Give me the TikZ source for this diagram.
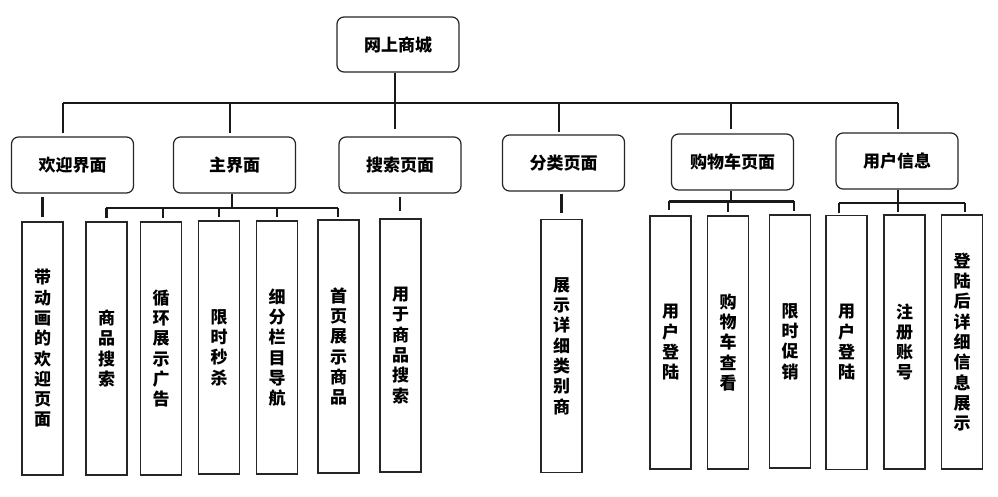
\documentclass[tikz,border=0pt]{standalone}
\usepackage{fontspec}
\newfontfamily\cjk{Noto Sans CJK SC}
\newcommand\lblfont{\cjk\bfseries\fontsize{17}{20}\selectfont}
\newcommand\vlblfont{\cjk\bfseries\fontsize{17}{20.3}\selectfont}
\begin{document}
\begin{tikzpicture}[x=1pt,y=-1pt,
  rbox/.style={draw=black!85, line width=1.2pt, rounded corners=7pt, font=\lblfont,
    inner sep=0pt, minimum width=122pt, minimum height=56pt},
  vbox/.style={draw=black!85, line width=1.2pt, font=\vlblfont, align=center,
    inner sep=0pt, minimum width=41pt, minimum height=253pt},
  conn/.style={line width=2.2pt, black!90}]
\useasboundingbox (0,0) rectangle (998,497);
\fill[white] (0,0) rectangle (998,497);

% root
\node[rbox, minimum height=55pt] (root) at (398,44.5) {网上商城};

% second level
\node[rbox] (welcome) at (72.5,165) {欢迎界面};
\node[rbox] (main)    at (234.5,165) {主界面};
\node[rbox] (search)  at (400,165) {搜索页面};
\node[rbox] (cat)     at (563.5,163) {分类页面};
\node[rbox] (cart)    at (732.5,162) {购物车页面};
\node[rbox] (user)    at (897,161) {用户信息};

% third level
\node[vbox] (w1) at (42.5,348.5) {带\\动\\画\\的\\欢\\迎\\页\\面};
\node[vbox] (m1) at (106.5,348.5) {商\\品\\搜\\索};
\node[vbox] (m2) at (161,348.5) {循\\环\\展\\示\\广\\告};
\node[vbox] (m3) at (219,347.5) {限\\时\\秒\\杀};
\node[vbox] (m4) at (277,347.5) {细\\分\\栏\\目\\导\\航};
\node[vbox] (m5) at (338.5,346.5) {首\\页\\展\\示\\商\\品};
\node[vbox] (s1) at (400.5,345.5) {用\\于\\商\\品\\搜\\索};
\node[vbox] (c1) at (561.5,346) {展\\示\\详\\细\\类\\别\\商};
\node[vbox] (k1) at (670.5,342.5) {用\\户\\登\\陆};
\node[vbox] (k2) at (728,342.5) {购\\物\\车\\查\\看};
\node[vbox] (k3) at (790,341.5) {限\\时\\促\\销};
\node[vbox, minimum height=254pt] (u1) at (846.5,342.5) {用\\户\\登\\陆};
\node[vbox, minimum height=254pt] (u2) at (904.5,342) {注\\册\\账\\号};
\node[vbox, minimum height=254pt] (u3) at (962,342) {登\\陆\\后\\详\\细\\信\\息\\展\\示};

% bus levels
\coordinate (yB) at (0,103);
\coordinate (yL) at (0,197);
\coordinate (yM) at (0,208);
\coordinate (yK) at (0,201.5);
\coordinate (yU) at (0,203);

% top level connectors
\draw[conn] ([xshift=-3pt]root.south) -- ([xshift=-5pt,yshift=7pt]search.north);
\draw[conn] ([xshift=-9.5pt]welcome.north |- yB) -- ([xshift=1pt]user.north |- yB);
\draw[conn] ([xshift=-9.5pt]welcome.north |- yB) -- ([xshift=-9.5pt,yshift=3pt]welcome.north);
\draw[conn] ([xshift=-4.5pt]main.north |- yB) -- ([xshift=-4.5pt,yshift=3.5pt]main.north);
\draw[conn] ([xshift=-4.5pt]cat.north |- yB) -- ([xshift=-4.5pt,yshift=2pt]cat.north);
\draw[conn] ([xshift=-1.5pt]cart.north |- yB) -- ([xshift=-1.5pt,yshift=4pt]cart.north);
\draw[conn] ([xshift=1pt]user.north |- yB) -- ([xshift=1pt,yshift=3pt]user.north);

% welcome
\draw[conn] (w1.north |- yL) -- ([yshift=4pt]w1.north);

% main
\draw[conn] ([xshift=-2.5pt]main.south) -- ([xshift=-2.5pt]main.south |- yM);
\draw[conn] ([xshift=-0.5pt]m1.north |- yM) -- ([xshift=-0.5pt]m5.north |- yM);
\foreach \n in {m1,m3,m4}
  \draw[conn] (\n.north |- yM) -- ([yshift=3pt]\n.north);
\draw[conn] ([xshift=2pt]m2.north |- yM) -- ([xshift=2pt,yshift=3pt]m2.north);
\draw[conn] ([xshift=-0.5pt]m5.north |- yM) -- ([xshift=-0.5pt,yshift=2pt]m5.north);

% search
\draw[conn] ([xshift=-0.5pt]s1.north |- yL) -- ([xshift=-0.5pt,yshift=7pt]s1.north);

% category
\draw[conn] ([yshift=-2pt]cat.south -| c1.north) -- ([yshift=6pt]c1.north);

% cart
\draw[conn] ([xshift=-1.5pt]cart.south) -- ([xshift=-1.5pt]cart.south |- yK);
\draw[conn] ([xshift=-1.5pt]k1.north |- yK) -- ([xshift=4pt]k3.north |- yK);
\draw[conn] ([xshift=-1.5pt]k1.north |- yK) -- ([xshift=-1.5pt,yshift=5pt]k1.north);
\draw[conn] (k2.north |- yK) -- ([yshift=3pt]k2.north);
\draw[conn] ([xshift=4pt]k3.north |- yK) -- ([xshift=4pt,yshift=3pt]k3.north);

% user
\draw[conn] ([xshift=1pt]user.south) -- ([xshift=1pt]user.south |- yU);
\draw[conn] ([xshift=-7.5pt]u1.north |- yU) -- ([xshift=3pt]u3.north |- yU);
\draw[conn] ([xshift=-7.5pt]u1.north |- yU) -- ([xshift=-7.5pt,yshift=2pt]u1.north);
\draw[conn] ([xshift=1pt]user.south |- yU) -- ([xshift=-6.5pt,yshift=2pt]u2.north);
\draw[conn] ([xshift=3pt]u3.north |- yU) -- ([xshift=3pt,yshift=2pt]u3.north);
\end{tikzpicture}
\end{document}
